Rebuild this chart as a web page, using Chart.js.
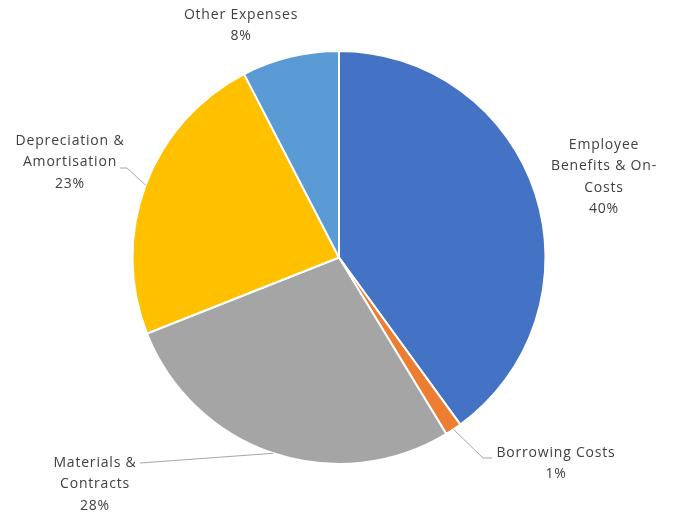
<!DOCTYPE html>
<html lang="en">
<head>
    <meta charset="UTF-8">
    <title>Expenses pie</title>
    <script src="https://cdn.jsdelivr.net/npm/chart.js"></script>
    <style>
        html, body { margin: 0; padding: 0; background: #fff; }
        #wrap { width: 678px; height: 518px; }
    </style>
</head>
<body>
    <div id="wrap"><canvas id="pie"></canvas></div>
    <script>
        // data (share of total, %)
        const categories = ['Employee Benefits & On-Costs', 'Borrowing Costs', 'Materials & Contracts', 'Depreciation & Amortisation', 'Other Expenses'];
        const values = [40.0, 1.3, 27.7, 23.4, 7.6];
        const colors = ['#4472C4', '#ED7D31', '#A5A5A5', '#FFC000', '#5B9BD5'];

        // how each label is wrapped and where it sits
        const labelLines = [
            ['Employee', 'Benefits & On-', 'Costs'],
            ['Borrowing Costs'],
            ['Materials &', 'Contracts'],
            ['Depreciation &', 'Amortisation'],
            ['Other Expenses']
        ];
        const labelPos = [
            { x: 604, y: 145, leader: null },
            { x: 556, y: 453, leader: [[483, 458], [492, 458]] },
            { x: 95, y: 463, leader: [[140, 463]] },
            { x: 70, y: 141, leader: [[127, 168], [120, 168]] },
            { x: 241, y: 15, leader: null }
        ];

        const outsideLabels = {
            id: 'outsideLabels',
            afterDatasetsDraw(chart) {
                const ctx = chart.ctx;
                const arcs = chart.getDatasetMeta(0).data;
                const total = values.reduce((a, b) => a + b, 0);
                ctx.save();
                arcs.forEach((arc, i) => {
                    const pos = labelPos[i];
                    if (pos.leader) {
                        const mid = (arc.startAngle + arc.endAngle) / 2;
                        const r = arc.outerRadius;
                        ctx.beginPath();
                        ctx.strokeStyle = '#A6A6A6';
                        ctx.lineWidth = 1;
                        ctx.moveTo(arc.x + Math.cos(mid) * r, arc.y + Math.sin(mid) * r);
                        pos.leader.forEach(p => ctx.lineTo(p[0], p[1]));
                        ctx.stroke();
                    }
                    const lines = labelLines[i].concat([Math.round(values[i] / total * 100) + '%']);
                    ctx.fillStyle = '#404040';
                    ctx.font = '14px "Open Sans"';
                    ctx.letterSpacing = '0.8px';
                    ctx.textAlign = 'center';
                    ctx.textBaseline = 'middle';
                    lines.forEach((t, k) => ctx.fillText(t, pos.x, pos.y + k * 21.5));
                });
                ctx.restore();
            }
        };

        new Chart(document.getElementById('pie'), {
            type: 'pie',
            data: {
                labels: categories,
                datasets: [{
                    data: values,
                    backgroundColor: colors,
                    borderColor: '#ffffff',
                    borderWidth: 2
                }]
            },
            options: {
                responsive: true,
                maintainAspectRatio: false,
                animation: false,
                layout: { padding: { top: 50, bottom: 53, left: 0, right: 0 } },
                plugins: {
                    legend: { display: false },
                    tooltip: { enabled: false }
                }
            },
            plugins: [outsideLabels]
        });
    </script>
</body>
</html>
